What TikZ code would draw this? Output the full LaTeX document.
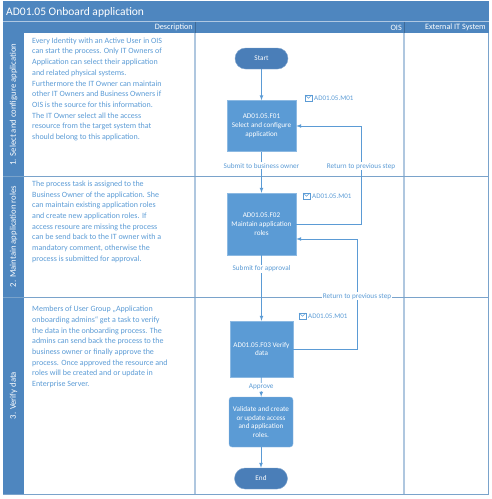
\documentclass[tikz,border=0pt]{standalone}
\usepackage{fontspec}
\setmainfont{Carlito}
\usetikzlibrary{positioning, calc}

\definecolor{laneblue}{HTML}{4E86BF}
\definecolor{boxblue}{HTML}{5B9BD5}
\definecolor{termblue}{HTML}{4A7EB8}
\definecolor{textblue}{HTML}{5B9BD5}
\definecolor{gridline}{HTML}{7AA3CB}
\definecolor{collight}{HTML}{AFC7DF}

% message tag: name, position, text
\newcommand{\msgtag}[3]{%
	\node (#1) at (#2) [msgtext, anchor=west]{#3};
	\draw[msgicon] ([shift={(-8,-3)}]#1.west) rectangle ++(7,6);
	\draw[msgicon] ([shift={(-8,-3)}]#1.west) -- ++(3.5,3.2) -- ++(3.5,-3.2);
}

\begin{document}
\begin{tikzpicture}[x=1pt, y=-1pt,
	desc/.style={anchor=north west, align=left, text=textblue, inner sep=0,
		font=\fontsize{8}{10.7}\selectfont},
	hdr/.style={text=white, inner sep=0, font=\fontsize{8.2}{9}\selectfont},
	lanetitle/.style={rotate=90, text=white, inner sep=0, font=\fontsize{8.7}{10}\selectfont},
	task/.style={draw=boxblue!70!white, fill=boxblue, rectangle, text=white, align=center,
		minimum width=69pt, inner sep=1pt, font=\fontsize{7.2}{8.8}\selectfont},
	terminal/.style={draw=termblue!70!white, fill=termblue, rectangle, rounded corners=10.5pt,
		minimum width=53pt, minimum height=21pt, text=white, font=\fontsize{7.2}{8.5}\selectfont},
	flow/.style={-latex, draw=boxblue, line width=0.7pt},
	flowlabel/.style={fill=white, text=textblue, inner sep=1pt, font=\fontsize{7.2}{8.5}\selectfont},
	msgtext/.style={text=textblue, inner sep=1pt, font=\fontsize{7}{8}\selectfont},
	msgicon/.style={draw=textblue, line width=0.5pt}]
	
	\useasboundingbox (0,0) rectangle (491,499);
	
	%Title and header band
	\fill[laneblue] (3,1) rectangle (489,33);
	\draw[white!55!laneblue, line width=0.6pt] (3,21.5) -- (489,21.5);
	\draw[laneblue!80!black, line width=0.6pt] (195,21.5) -- (195,33);
	\draw[laneblue!80!black, line width=0.6pt] (404,21.5) -- (404,33);
	\node (title) at (6,12) [anchor=west, text=white, inner sep=0, 
	font=\fontsize{11.5}{13}\selectfont]{AD01.05 Onboard application};
	\node (hdrDesc) at (193,27.5) [hdr, anchor=east]{Description};
	\node (hdrOIS) at (402,27.5) [hdr, anchor=east]{OIS};
	\node (hdrExt) at (486,27.5) [hdr, anchor=east]{External IT System};
	
	%Lane strip
	\fill[laneblue] (3,33) rectangle (24,494);
	
	%Columns
	\draw[collight, line width=1.2pt] (195,33) -- (195,494);
	\draw[collight, line width=1.2pt] (404,33) -- (404,494);
	\draw[gridline, line width=0.9pt] (488.5,33) -- (488.5,494);
	
	%Lanes
	\draw[gridline, line width=0.9pt] (3,176) -- (489,176);
	\draw[gridline, line width=0.9pt] (3,297) -- (489,297);
	\draw[gridline, line width=0.9pt] (3,494) -- (489,494);
	
	\node (laneOne) at (13.5,104.5) [lanetitle]{1. Select and configure application};
	\node (laneTwo) at (13.5,236.5) [lanetitle]{2. Maintain application roles};
	\node (laneThree) at (13.5,395.5) [lanetitle]{3. Verify data};
	
	%Descriptions
	\node (descOne) at (32,37.5) [desc]{Every Identity with an Active User in OIS\\
		can start the process. Only IT Owners of\\
		Application can select their application\\
		and related physical systems.\\
		Furthermore the IT Owner can maintain\\
		other IT Owners and Business Owners if\\
		OIS is the source for this information.\\
		The IT Owner select all the access\\
		resource from the target system that\\
		should belong to this application.};
	
	\node (descTwo) at (32,180.7) [desc]{The process task is assigned to the\\
		Business Owner of the application. She\\
		can maintain existing application roles\\
		and create new application roles. If\\
		access resoure are missing the process\\
		can be send back to the IT owner with a\\
		mandatory comment, otherwise the\\
		process is submitted for approval.};
	
	\node (descThree) at (32,306) [desc]{Members of User Group „Application\\
		onboarding admins“ get a task to verify\\
		the data in the onboarding process. The\\
		admins can send back the process to the\\
		business owner or finally approve the\\
		process. Once approved the resource and\\
		roles will be created and or update in\\
		Enterprise Server.};
	
	%Start
	\node (start) at (261.5,58.5) [terminal]{Start};
	
	%Select and configure application
	\node (selectApp) at (261.5,126) [task, minimum height=51pt]{AD01.05.F01\\
		Select and configure\\application};
	\msgtag{msgOne}{313,98}{AD01.05.M01}
	
	%Maintain application roles
	\node (maintainRoles) at (261.5,224) [task, minimum height=62pt]{AD01.05.F02\\
		Maintain application\\roles};
	\msgtag{msgTwo}{311,196}{AD01.05.M01}
	
	%Verify data
	\node (verifyData) at (261.5,349) [task, minimum width=63pt, minimum height=56pt]{AD01.05.F03 
		Verify\\data};
	\msgtag{msgThree}{307,316}{AD01.05.M01}
	
	%Validate and create
	\node (validateRoles) at (261,422) [task, rounded corners=3pt, minimum width=64pt, 
	minimum height=50pt]{Validate and create\\or update access\\and application\\roles.};
	
	%End
	\node (finish) at (261,478.5) [terminal]{End};
	
	%Return points
	\coordinate (backOne) at (361,0);
	\coordinate (backTwo) at (357,239);
	
	%Links
	\draw[flow] (start) -- (selectApp);
	\draw[flow] (selectApp) -- node[flowlabel, pos=0.34] (lblSubmitOwner){Submit to business 
		owner} (maintainRoles);
	\draw[flow] (maintainRoles.east) -- (maintainRoles.east -| backOne) -- node[flowlabel, 
	pos=0.59] (lblReturnOne){Return to previous step} (selectApp.east -| backOne) -- 
	(selectApp.east);
	\draw[flow] (maintainRoles) -- node[flowlabel, pos=0.21] (lblSubmitApproval){Submit for 
		approval} (verifyData);
	\draw[flow] (verifyData.east) -- (verifyData.east -| backTwo) -- node[flowlabel, pos=0.48] 
	(lblReturnTwo){Return to previous step} (backTwo) -- (maintainRoles.east |- backTwo);
	\draw[flow] (verifyData) -- node[flowlabel] (lblApprove){Approve} (validateRoles);
	\draw[flow] (validateRoles) -- (finish);
	
\end{tikzpicture}
\end{document}
